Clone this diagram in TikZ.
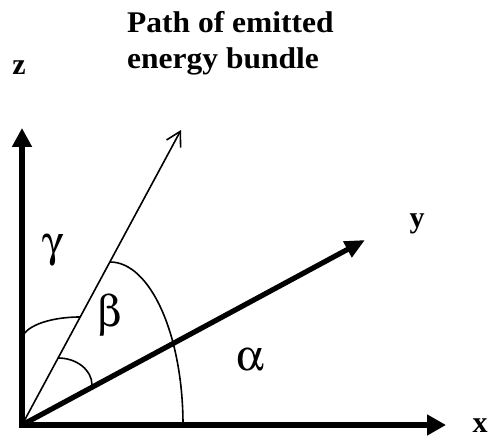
\documentclass[tikz,border=0pt]{standalone}
\usepackage{fontspec}
\setmainfont{Liberation Serif}
\usepackage[Symbol]{upgreek}
\usetikzlibrary{arrows.meta}
\newcommand{\wideline}[1]{\scalebox{1.05}[1]{#1}}
\begin{document}
\begin{tikzpicture}[x=1pt,y=1pt,
  axisline/.style={line width=5.2pt},
  rayline/.style={line width=1.6pt},
  lbl/.style={font=\fontsize{30}{36}\selectfont\bfseries, inner sep=0pt, anchor=base},
  grk/.style={font=\fontsize{44}{50}\selectfont, inner sep=0pt, anchor=base}]
\useasboundingbox (0,0) rectangle (493,441);
\coordinate (O) at (22,16);
\coordinate (Z) at (22,313);
\coordinate (X) at (446,16);
\coordinate (Y) at (365,201);
\coordinate (P) at (181,311);
% axes z and x
\draw[axisline, {Triangle[length=19pt,width=19pt]}-{Triangle[length=19pt,width=20pt]}] (Z) -- (O) -- (X);
% axis y
\draw[axisline, -{Triangle[length=20pt,width=17pt]}] (O) -- (Y);
% path of emitted energy bundle
\draw[rayline, -{Straight Barb[length=14pt,width=16pt]}] (O) -- (P);
% angle arcs
\draw[rayline] (22,101) arc[start angle=180,end angle=90,x radius=58,y radius=23];
\draw[rayline] (58,83) arc[start angle=90,end angle=0,x radius=34,y radius=27];
\draw[rayline] (110,179) arc[start angle=90,end angle=0,x radius=73,y radius=163];
% labels
\node[lbl] (zl) at (19,366) {z};
\node[lbl, anchor=base west, align=left] (title) at (127,372.5) {\wideline{Path of emitted}\\\wideline{energy bundle}};
\node[lbl] (yl) at (417,213) {y};
\node[lbl] (xl) at (480,8) {x};
\node[grk] (gam) at (53,184) {$\upgamma$};
\node[grk] (bet) at (110,114) {$\upbeta$};
\node[grk] (alp) at (250,70) {$\upalpha$};
\end{tikzpicture}
\end{document}
